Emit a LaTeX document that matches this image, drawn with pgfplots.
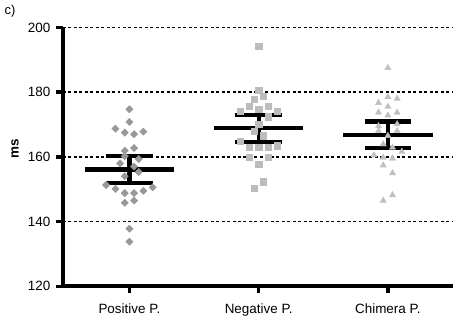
\documentclass[border=0pt]{standalone}
\usepackage{pgfplots}
\pgfplotsset{compat=1.18}
\usepackage{fontspec}
\setmainfont{Liberation Sans}

\definecolor{posgray}{RGB}{152,152,152}
\definecolor{neggray}{RGB}{188,188,188}
\definecolor{chigray}{RGB}{192,192,192}

% reaction times per participant, x = group index + jitter
\pgfplotstableread{
x y
0 174.7
0 170.8
-0.108 168.7
-0.036 167.5
0.036 167.0
0.108 167.8
-0.036 161.9
0.036 162.7
-0.036 160.2
0.072 159.3
-0.072 158.0
0.036 157.0
0.072 155.3
-0.036 154.0
-0.18 151.3
-0.108 150.1
-0.036 148.8
0.036 148.8
0.108 149.5
0.18 150.6
-0.036 145.8
0.036 146.5
0 137.8
0 133.8
}\positive

\pgfplotstableread{
x y
1 194.2
1 180.6
0.964 177.8
1.036 178.8
0.928 175.7
1 174.7
1.072 175.7
0.856 174.2
1.144 174.2
1.072 172.4
1 170.0
0.964 168.0
1.036 166.5
0.856 164.9
1.144 163.5
0.928 162.9
1 162.9
1.072 162.9
0.928 159.8
1.072 159.8
1 157.8
1.036 152.3
0.964 150.3
}\negative

\pgfplotstableread{
x y
2 187.5
2 178.5
2.072 178.0
1.928 176.7
2 175.5
1.928 173.7
2.072 173.7
2 172.8
1.928 169.5
2.072 170.1
1.928 168.0
2.072 168.0
2 166.5
1.964 163.9
2.036 162.9
1.892 160.5
2.108 161.6
1.964 159.8
2.036 159.5
1.964 157.4
2.036 155.0
2.036 148.2
1.964 146.5
}\chimera

\begin{document}
\begin{tikzpicture}
\begin{axis}[
  scale only axis, width=392pt, height=260pt,
  xmin=-0.516, xmax=2.505, ymin=120, ymax=200,
  axis x line*=bottom, axis y line*=left,
  axis line style={line width=3.8pt, -},
  xtick={0,1,2},
  xticklabels={Positive P., Negative P., Chimera P.},
  ytick={120,140,...,200},
  tick align=outside,
  major tick length=7pt,
  tick style={line width=3.4pt, black},
  ymajorgrids,
  grid style={black, line width=1.5pt, dash pattern=on 3pt off 2.5pt},
  ticklabel style={font=\fontsize{13.5}{15}\selectfont},
  yticklabel style={xshift=-2pt},
  xticklabel style={yshift=-7pt},
  /pgf/number format/assume math mode=true,
  ylabel={\textbf{ms}},
  ylabel style={font=\fontsize{13.5}{15}\selectfont, at={(axis description cs:-0.122,0.53)}, anchor=center},
  unbounded coords=jump,
  clip=false,
]
\addplot[only marks, color=posgray, mark=square*, mark size=2.6pt,
  mark options={rotate=45, fill=posgray, draw=posgray}] table {\positive};
\addplot[only marks, color=neggray, mark=square*, mark size=3.2pt,
  mark options={fill=neggray, draw=neggray}] table {\negative};
\addplot[only marks, color=chigray, mark=triangle*, mark size=3.6pt,
  mark options={fill=chigray, draw=chigray}] table {\chimera};

% group means
\addplot[black, line width=4.2pt, no marks] coordinates {
  (-0.346,156.1) (0.346,156.1) (nan,nan)
  (0.654,168.8) (1.346,168.8) (nan,nan)
  (1.654,166.8) (2.346,166.8)
};
% standard error bars
\addplot[black, line width=4.2pt, no marks] coordinates {
  (0,151.85) (0,160.35) (nan,nan)
  (1,164.7) (1,172.9) (nan,nan)
  (2,162.7) (2,170.9)
};
\addplot[black, line width=4.2pt, no marks] coordinates {
  (-0.18,160.35) (0.18,160.35) (nan,nan)
  (-0.18,151.85) (0.18,151.85) (nan,nan)
  (0.82,172.9) (1.18,172.9) (nan,nan)
  (0.82,164.7) (1.18,164.7) (nan,nan)
  (1.82,170.9) (2.18,170.9) (nan,nan)
  (1.82,162.7) (2.18,162.7)
};
\node[font=\fontsize{13}{15}\selectfont] at (axis description cs:-0.135,1.063) {c)};
\end{axis}
\path[use as bounding box] (-63pt,-32.5pt) rectangle (392pt,287.5pt);
\end{tikzpicture}
\end{document}
